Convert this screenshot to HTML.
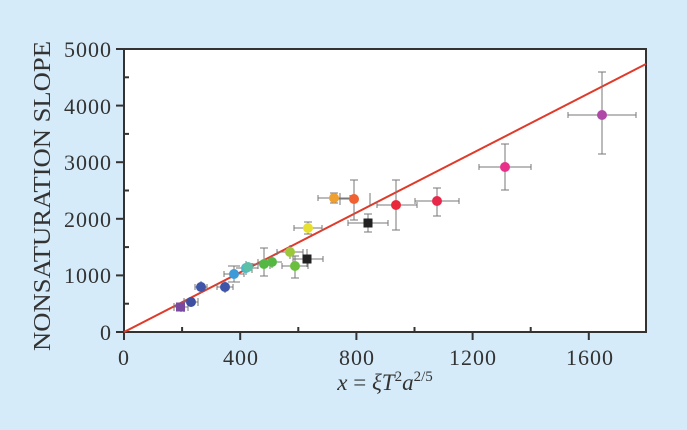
<!DOCTYPE html>
<html><head><style>
body{margin:0;background:#d5ebf9;}
svg{display:block;font-family:"Liberation Serif",serif;}
</style></head><body>
<svg width="687" height="430" viewBox="0 0 687 430">
<rect width="687" height="430" fill="#d5ebf9"/>
<rect x="124" y="49" width="522" height="283" fill="#fff" stroke="#333" stroke-width="2"/>
<g stroke="#333" stroke-width="2">
<line x1="116" y1="332" x2="124" y2="332"/><line x1="116" y1="275.4" x2="124" y2="275.4"/>
<line x1="116" y1="218.8" x2="124" y2="218.8"/><line x1="116" y1="162.2" x2="124" y2="162.2"/>
<line x1="116" y1="105.6" x2="124" y2="105.6"/><line x1="116" y1="49" x2="124" y2="49"/>
<line x1="124" y1="303.7" x2="129" y2="303.7"/><line x1="124" y1="247.1" x2="129" y2="247.1"/>
<line x1="124" y1="190.5" x2="129" y2="190.5"/><line x1="124" y1="133.9" x2="129" y2="133.9"/>
<line x1="124" y1="77.3" x2="129" y2="77.3"/>
<line x1="124" y1="332" x2="124" y2="340"/><line x1="240.2" y1="332" x2="240.2" y2="340"/>
<line x1="356.4" y1="332" x2="356.4" y2="340"/><line x1="472.6" y1="332" x2="472.6" y2="340"/>
<line x1="588.8" y1="332" x2="588.8" y2="340"/>
<line x1="182.1" y1="332" x2="182.1" y2="327"/><line x1="298.3" y1="332" x2="298.3" y2="327"/>
<line x1="414.5" y1="332" x2="414.5" y2="327"/><line x1="530.7" y1="332" x2="530.7" y2="327"/>
</g>
<g font-size="22" fill="#333" text-anchor="end" letter-spacing="1">
<text x="112" y="340">0</text><text x="112" y="283">1000</text><text x="112" y="227">2000</text>
<text x="112" y="170">3000</text><text x="112" y="114">4000</text><text x="112" y="57">5000</text>
</g>
<g font-size="22" fill="#333" text-anchor="middle" letter-spacing="1">
<text x="124" y="365">0</text><text x="241" y="365">400</text><text x="357" y="365">800</text>
<text x="473" y="365">1200</text><text x="590" y="365">1600</text>
</g>
<text x="385" y="390" font-size="23" fill="#333" text-anchor="middle" font-style="italic">x <tspan font-style="normal">=</tspan> ξT<tspan font-size="15" dy="-9" font-style="normal">2</tspan><tspan dy="9">a</tspan><tspan font-size="15" dy="-9" font-style="normal">2/5</tspan></text>
<text transform="translate(50,196) rotate(-90)" font-size="24" fill="#333" text-anchor="middle" textLength="310" lengthAdjust="spacingAndGlyphs">NONSATURATION SLOPE</text>
<line x1="124" y1="332" x2="646" y2="64" stroke="#e03a2a" stroke-width="2"/>
<g stroke="#777" stroke-width="1">
<path d="M174 307h14M181 302v10M184 302v10"/>
<path d="M184 302h14M191 297v10"/>
<path d="M195 287h12M201 281v12"/>
<path d="M217 287h16M225 281v12"/>
<path d="M224 274h20M234 266v16"/>
<path d="M236 268h22M246 261v14M252 263v10"/>
<path d="M250 264h24M264 248v28M258 259v10M270 259v10"/>
<path d="M262 262h20M272 256v12"/>
<path d="M277 252h26M290 245v14"/>
<path d="M282 266h26M295 256v22"/>
<path d="M293 259h30M307 249v18"/>
<path d="M294 228h28M308 222v12"/>
<path d="M318 198h32M334 193v10"/>
<path d="M338 199h18M354 180v40M340 193v12M370 193v12"/>
<path d="M348 223h40M368 214v18"/>
<path d="M377 205h40M396 180v50"/>
<path d="M415 201h44M437 188v28"/>
<path d="M479 167h52M505 144v46"/>
<path d="M568 115h68M602 72v82"/>
</g>
<g stroke="#777" stroke-width="1">
<path d="M174 303v8M188 303v8M184 298v8M198 298v8M195 284v6M207 284v6M217 284v6M233 284v6M224 271v6M244 271v6M228 266h12M228 282h12M260 248h8M260 276h8M277 249v6M303 249v6M282 263v6M308 263v6M291 256h8M291 278h8M293 256v6M323 256v6M294 225v6M322 225v6M304 222h8M304 234h8M318 195v6M350 195v6M330 193h8M330 203h8M350 180h8M350 220h8M348 220v6M388 220v6M364 214h8M364 232h8M377 202v6M417 202v6M392 180h8M392 230h8M415 198v6M459 198v6M433 188h8M433 216h8M479 164v6M531 164v6M501 144h8M501 190h8M568 112v6M636 112v6M598 72h8M598 154h8"/>
</g>
<rect x="176" y="302.5" width="9" height="9" fill="#7a4aa0"/>
<circle cx="191" cy="302" r="5" fill="#3e4ea0"/>
<circle cx="201" cy="287" r="5" fill="#3e55a8"/>
<circle cx="225" cy="287" r="5" fill="#3e55a8"/>
<circle cx="234" cy="274" r="5" fill="#3d9ad8"/>
<circle cx="246" cy="268" r="5" fill="#4ab8c8"/>
<circle cx="248" cy="267" r="5" fill="#5cc0a8"/>
<circle cx="264" cy="264" r="5" fill="#55b845"/>
<circle cx="272" cy="262" r="5" fill="#55b845"/>
<circle cx="290" cy="252" r="5" fill="#9ac83a"/>
<circle cx="295" cy="266" r="5" fill="#6abf3e"/>
<rect x="302.5" y="254.5" width="9" height="9" fill="#222"/>
<circle cx="308" cy="228" r="5" fill="#e8e030"/>
<circle cx="334" cy="198" r="5" fill="#f0a030"/>
<circle cx="354" cy="199" r="5" fill="#f06030"/>
<rect x="363.5" y="218.5" width="9" height="9" fill="#222"/>
<circle cx="396" cy="205" r="5" fill="#e8283a"/>
<circle cx="437" cy="201" r="5" fill="#e8284a"/>
<circle cx="505" cy="167" r="5" fill="#e8308a"/>
<circle cx="602" cy="115" r="5" fill="#b048a8"/>
</svg>
</body></html>
